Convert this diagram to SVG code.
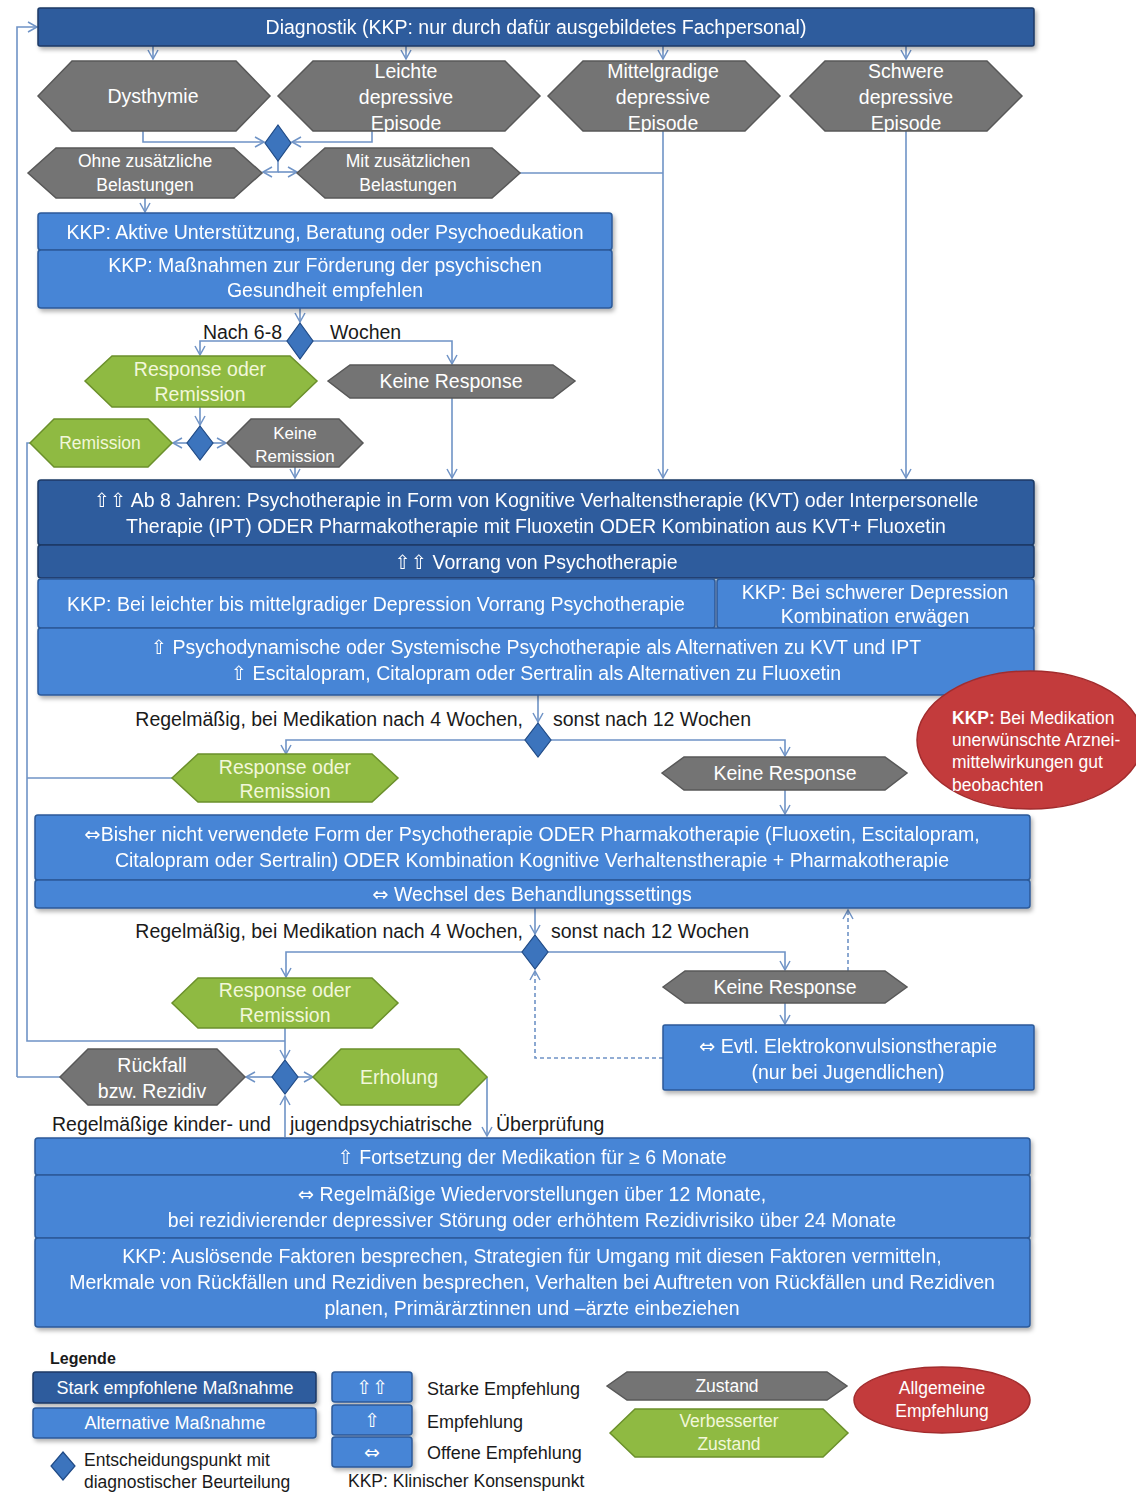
<svg xmlns="http://www.w3.org/2000/svg" width="1136" height="1498" viewBox="0 0 1136 1498">
<defs>
<style>
.dk{fill:#2d5b9d;stroke:#1c3a66;stroke-width:1.5}
.lt{fill:#4785d6;stroke:#2c5a99;stroke-width:1.5}
.gr{fill:#747474;stroke:#585858;stroke-width:1.5}
.gn{fill:#8fba42;stroke:#6b902b;stroke-width:1.5}
.dm{fill:#3c74bd;stroke:#1f4a86;stroke-width:1.2}
.rd{fill:#c33b3c;stroke:#a22c2d;stroke-width:1.5}
.t{font-family:"Liberation Sans",Arial,"DejaVu Sans",sans-serif;font-size:19.5px;fill:#fff;text-anchor:middle}
.tg{font-family:"Liberation Sans",Arial,"DejaVu Sans",sans-serif;font-size:19.5px;fill:#f2f7da;text-anchor:middle}
.lb{font-family:"Liberation Sans",Arial,"DejaVu Sans",sans-serif;font-size:19.5px;fill:#1a1a1a}
.sy{font-family:"DejaVu Sans",sans-serif}
.c{stroke:#6f93c6;stroke-width:1.6;fill:none}
.cd{stroke:#6f93c6;stroke-width:1.6;fill:none;stroke-dasharray:4 3}
.sh{filter:url(#shd)}
</style>
<filter id="shd" x="-5%" y="-10%" width="110%" height="130%">
<feDropShadow dx="2" dy="3" stdDeviation="2" flood-color="#000" flood-opacity="0.3"/>
</filter>
<marker id="ar" markerWidth="12" markerHeight="12" refX="10" refY="6" orient="auto" markerUnits="userSpaceOnUse">
<path d="M1,1 L10,6 L1,11" fill="none" stroke="#6f93c6" stroke-width="1.5"/>
</marker>
</defs>
<rect width="1136" height="1498" fill="#fff"/>

<g id="connectors">
<path class="c" d="M17,1077 L17,27 L37,27" marker-end="url(#ar)"/>
<path class="c" d="M60,1077 L17,1077"/>
<path class="c" d="M153,46 L153,59" marker-end="url(#ar)"/>
<path class="c" d="M406,46 L406,59" marker-end="url(#ar)"/>
<path class="c" d="M663,46 L663,59" marker-end="url(#ar)"/>
<path class="c" d="M906,46 L906,59" marker-end="url(#ar)"/>
<path class="c" d="M143,130 L143,142 L264,142" marker-end="url(#ar)"/>
<path class="c" d="M372,130 L372,142 L292,142" marker-end="url(#ar)"/>
<path class="c" d="M278,160 L278,172 L263,172" marker-end="url(#ar)"/>
<path class="c" d="M278,172 L297,172" marker-end="url(#ar)"/>
<path class="c" d="M520,173 L663,173"/>
<path class="c" d="M663,130 L663,478" marker-end="url(#ar)"/>
<path class="c" d="M906,130 L906,478" marker-end="url(#ar)"/>
<path class="c" d="M145,198 L145,212" marker-end="url(#ar)"/>
<path class="c" d="M300,308 L300,322" marker-end="url(#ar)"/>
<path class="c" d="M287,341 L200,341 L200,355" marker-end="url(#ar)"/>
<path class="c" d="M313,341 L452,341 L452,364" marker-end="url(#ar)"/>
<path class="c" d="M452,398 L452,478" marker-end="url(#ar)"/>
<path class="c" d="M200,407 L200,425" marker-end="url(#ar)"/>
<path class="c" d="M187,443 L173,443" marker-end="url(#ar)"/>
<path class="c" d="M213,443 L226,443" marker-end="url(#ar)"/>
<path class="c" d="M295,467 L295,478" marker-end="url(#ar)"/>
<path class="c" d="M30,443 L27,443 L27,1041 L285,1041"/>
<path class="c" d="M538,695 L538,722" marker-end="url(#ar)"/>
<path class="c" d="M525,740 L286,740 L286,754" marker-end="url(#ar)"/>
<path class="c" d="M551,740 L785,740 L785,756" marker-end="url(#ar)"/>
<path class="c" d="M172,778 L27,778"/>
<path class="c" d="M785,790 L785,814" marker-end="url(#ar)"/>
<path class="c" d="M535,908 L535,934" marker-end="url(#ar)"/>
<path class="c" d="M522,952 L286,952 L286,977" marker-end="url(#ar)"/>
<path class="c" d="M548,952 L785,952 L785,970" marker-end="url(#ar)"/>
<path class="c" d="M785,1003 L785,1024" marker-end="url(#ar)"/>
<path class="cd" d="M663,1058 L535,1058 L535,971" marker-end="url(#ar)"/>
<path class="cd" d="M848,971 L848,910" marker-end="url(#ar)"/>
<path class="c" d="M285,1028 L285,1059" marker-end="url(#ar)"/>
<path class="c" d="M272,1077 L246,1077" marker-end="url(#ar)"/>
<path class="c" d="M298,1077 L313,1077" marker-end="url(#ar)"/>
<path class="c" d="M487,1077 L487,1136" marker-end="url(#ar)"/>
<path class="c" d="M285,1137 L285,1096" marker-end="url(#ar)"/>
</g>

<g id="diagnostik" class="sh">
<rect class="dk" x="38" y="8" width="996" height="38" rx="2"/>
<text class="t" x="536" y="34">Diagnostik (KKP: nur durch dafür ausgebildetes Fachpersonal)</text>
</g>

<g id="dysthymie">
<polygon class="gr" points="38,96 72,61 236,61 270,96 236,131 72,131"/>
<text class="t" x="153" y="103">Dysthymie</text>
</g>
<g id="leichte">
<polygon class="gr" points="278,96 313,61 505,61 540,96 505,131 313,131"/>
<text class="t" x="406" y="78">Leichte</text>
<text class="t" x="406" y="104">depressive</text>
<text class="t" x="406" y="130">Episode</text>
</g>
<g id="mittel">
<polygon class="gr" points="548,96 583,61 745,61 780,96 745,131 583,131"/>
<text class="t" x="663" y="78">Mittelgradige</text>
<text class="t" x="663" y="104">depressive</text>
<text class="t" x="663" y="130">Episode</text>
</g>
<g id="schwer">
<polygon class="gr" points="790,96 825,61 987,61 1022,96 987,131 825,131"/>
<text class="t" x="906" y="78">Schwere</text>
<text class="t" x="906" y="104">depressive</text>
<text class="t" x="906" y="130">Episode</text>
</g>

<g id="d1"><polygon class="dm" points="278,125 291,143 278,161 265,143"/></g>

<g id="ohne">
<polygon class="gr" points="28,173 56,148 234,148 262,173 234,198 56,198"/>
<text class="t" x="145" y="167" style="font-size:17.5px">Ohne zusätzliche</text>
<text class="t" x="145" y="191" style="font-size:17.5px">Belastungen</text>
</g>
<g id="mit">
<polygon class="gr" points="297,173 325,148 492,148 520,173 492,198 325,198"/>
<text class="t" x="408" y="167" style="font-size:17.5px">Mit zusätzlichen</text>
<text class="t" x="408" y="191" style="font-size:17.5px">Belastungen</text>
</g>

<g id="kkp1" class="sh">
<rect class="lt" x="38" y="213" width="574" height="37" rx="3"/>
<rect class="lt" x="38" y="250" width="574" height="58" rx="3"/>
<text class="t" x="325" y="239">KKP: Aktive Unterstützung, Beratung oder Psychoedukation</text>
<text class="t" x="325" y="272">KKP: Maßnahmen zur Förderung der psychischen</text>
<text class="t" x="325" y="297">Gesundheit empfehlen</text>
</g>

<g id="d2"><polygon class="dm" points="300,323 313,341 300,359 287,341"/></g>
<text class="lb" x="282" y="339" text-anchor="end">Nach 6-8</text>
<text class="lb" x="330" y="339">Wochen</text>

<g id="resp1">
<polygon class="gn" points="85,381 112,356 290,356 317,381 290,407 112,407"/>
<text class="tg" x="200" y="376">Response oder</text>
<text class="tg" x="200" y="401">Remission</text>
</g>
<g id="keineresp1">
<polygon class="gr" points="328,381 350,365 553,365 575,381 553,398 350,398"/>
<text class="t" x="451" y="388">Keine Response</text>
</g>

<g id="d3"><polygon class="dm" points="200,426 213,443 200,460 187,443"/></g>

<g id="remission">
<polygon class="gn" points="30,443 54,419 148,419 172,443 148,467 54,467"/>
<text class="tg" x="100" y="449" style="font-size:17.5px">Remission</text>
</g>
<g id="keinerem">
<polygon class="gr" points="227,443 251,419 339,419 363,443 339,467 251,467"/>
<text class="t" x="295" y="439" style="font-size:17px">Keine</text>
<text class="t" x="295" y="462" style="font-size:17px">Remission</text>
</g>

<g id="box1" class="sh">
<rect class="dk" x="38" y="480" width="996" height="65" rx="3"/>
<rect class="dk" x="38" y="545" width="996" height="33" rx="3"/>
<rect class="lt" x="38" y="579" width="677" height="49" rx="3"/>
<rect class="lt" x="717" y="579" width="317" height="49" rx="3"/>
<rect class="lt" x="38" y="628" width="996" height="67" rx="3"/>
<text class="t" x="536" y="507"><tspan class="sy">⇧⇧</tspan> Ab 8 Jahren: Psychotherapie in Form von Kognitive Verhaltenstherapie (KVT) oder Interpersonelle</text>
<text class="t" x="536" y="533">Therapie (IPT)  ODER Pharmakotherapie mit Fluoxetin ODER Kombination aus KVT+ Fluoxetin</text>
<text class="t" x="536" y="569"><tspan class="sy">⇧⇧</tspan> Vorrang von Psychotherapie</text>
<text class="t" x="376" y="611">KKP: Bei leichter bis mittelgradiger Depression Vorrang Psychotherapie</text>
<text class="t" x="875" y="599">KKP: Bei schwerer Depression</text>
<text class="t" x="875" y="623">Kombination erwägen</text>
<text class="t" x="536" y="654"><tspan class="sy">⇧</tspan> Psychodynamische oder Systemische Psychotherapie als Alternativen zu KVT und IPT</text>
<text class="t" x="536" y="680"><tspan class="sy">⇧</tspan> Escitalopram, Citalopram oder Sertralin als Alternativen zu Fluoxetin</text>
</g>

<g id="d4"><polygon class="dm" points="538,723 551,740 538,757 525,740"/></g>
<text class="lb" x="523" y="726" text-anchor="end">Regelmäßig, bei Medikation nach 4 Wochen,</text>
<text class="lb" x="553" y="726">sonst nach 12 Wochen</text>

<g id="resp2">
<polygon class="gn" points="172,778 198,754 372,754 398,778 372,802 198,802"/>
<text class="tg" x="285" y="774">Response oder</text>
<text class="tg" x="285" y="798">Remission</text>
</g>
<g id="keineresp2">
<polygon class="gr" points="662,773 684,757 885,757 907,773 885,790 684,790"/>
<text class="t" x="785" y="780">Keine Response</text>
</g>

<g id="kkpred">
<ellipse class="rd" cx="1030" cy="740" rx="113" ry="69"/>
<text x="952" y="724" style="font-family:'Liberation Sans',Arial,sans-serif;font-size:17.5px;fill:#fff"><tspan font-weight="bold">KKP:</tspan> Bei Medikation</text>
<text x="952" y="746" style="font-family:'Liberation Sans',Arial,sans-serif;font-size:17.5px;fill:#fff">unerwünschte Arznei-</text>
<text x="952" y="768" style="font-family:'Liberation Sans',Arial,sans-serif;font-size:17.5px;fill:#fff">mittelwirkungen gut</text>
<text x="952" y="791" style="font-family:'Liberation Sans',Arial,sans-serif;font-size:17.5px;fill:#fff">beobachten</text>
</g>

<g id="box2" class="sh">
<rect class="lt" x="35" y="815" width="995" height="65" rx="3"/>
<rect class="lt" x="35" y="880" width="995" height="28" rx="3"/>
<text class="t" x="532" y="841"><tspan class="sy">⇔</tspan>Bisher nicht verwendete  Form der Psychotherapie ODER Pharmakotherapie (Fluoxetin, Escitalopram,</text>
<text class="t" x="532" y="867">Citalopram oder Sertralin) ODER Kombination Kognitive Verhaltenstherapie + Pharmakotherapie</text>
<text class="t" x="532" y="901"><tspan class="sy">⇔</tspan> Wechsel des Behandlungssettings</text>
</g>

<g id="d5"><polygon class="dm" points="535,935 548,952 535,969 522,952"/></g>
<text class="lb" x="523" y="938" text-anchor="end">Regelmäßig, bei Medikation nach 4 Wochen,</text>
<text class="lb" x="551" y="938">sonst nach 12 Wochen</text>

<g id="resp3">
<polygon class="gn" points="172,1003 198,978 372,978 398,1003 372,1028 198,1028"/>
<text class="tg" x="285" y="997">Response oder</text>
<text class="tg" x="285" y="1022">Remission</text>
</g>
<g id="keineresp3">
<polygon class="gr" points="663,987 685,971 885,971 907,987 885,1003 685,1003"/>
<text class="t" x="785" y="994">Keine Response</text>
</g>

<g id="evtl" class="sh">
<rect class="lt" x="663" y="1025" width="371" height="65" rx="2"/>
<text class="t" x="848" y="1053"><tspan class="sy">⇔</tspan> Evtl. Elektrokonvulsionstherapie</text>
<text class="t" x="848" y="1079">(nur bei Jugendlichen)</text>
</g>

<g id="d6"><polygon class="dm" points="285,1060 298,1077 285,1094 272,1077"/></g>

<g id="rueckfall">
<polygon class="gr" points="60,1077 88,1049 217,1049 245,1077 217,1105 88,1105"/>
<text class="t" x="152" y="1072">Rückfall</text>
<text class="t" x="152" y="1098">bzw. Rezidiv</text>
</g>
<g id="erholung">
<polygon class="gn" points="313,1077 341,1049 459,1049 487,1077 459,1105 341,1105"/>
<text class="tg" x="399" y="1084">Erholung</text>
</g>

<text class="lb" x="52" y="1131">Regelmäßige kinder- und</text>
<text class="lb" x="290" y="1131">jugendpsychiatrische</text>
<text class="lb" x="496" y="1131">Überprüfung</text>

<g id="box3" class="sh">
<rect class="lt" x="35" y="1138" width="995" height="37" rx="3"/>
<rect class="lt" x="35" y="1175" width="995" height="63" rx="3"/>
<rect class="lt" x="35" y="1238" width="995" height="89" rx="3"/>
<text class="t" x="532" y="1164"><tspan class="sy">⇧</tspan>  Fortsetzung der Medikation für ≥ 6 Monate</text>
<text class="t" x="532" y="1201"><tspan class="sy">⇔</tspan> Regelmäßige Wiedervorstellungen über 12 Monate,</text>
<text class="t" x="532" y="1227">bei rezidivierender  depressiver Störung oder erhöhtem Rezidivrisiko über 24 Monate</text>
<text class="t" x="532" y="1263">KKP: Auslösende Faktoren besprechen, Strategien für Umgang mit diesen Faktoren vermitteln,</text>
<text class="t" x="532" y="1289">Merkmale von Rückfällen und Rezidiven  besprechen, Verhalten bei Auftreten von Rückfällen und Rezidiven</text>
<text class="t" x="532" y="1315">planen, Primärärztinnen und –ärzte einbeziehen</text>
</g>

<g id="legend">
<text x="50" y="1364" style="font-family:'Liberation Sans',Arial,sans-serif;font-size:16px;font-weight:bold;fill:#1a1a1a">Legende</text>
<g class="sh">
<rect class="dk" x="33" y="1372" width="283" height="31" rx="3"/>
<rect class="lt" x="33" y="1408" width="283" height="30" rx="3"/>
<rect class="lt" x="332" y="1372" width="80" height="30" rx="3"/>
<rect class="lt" x="332" y="1405" width="80" height="30" rx="3"/>
<rect class="lt" x="332" y="1437" width="80" height="30" rx="3"/>
</g>
<text class="t" x="175" y="1394" style="font-size:18px">Stark empfohlene Maßnahme</text>
<text class="t" x="175" y="1429" style="font-size:18px">Alternative Maßnahme</text>
<text class="t sy" x="372" y="1394" style="font-size:19px">⇧⇧</text>
<text class="t sy" x="372" y="1427" style="font-size:19px">⇧</text>
<text class="t sy" x="372" y="1459" style="font-size:19px">⇔</text>
<polygon class="dm" points="63,1452 75,1466 63,1480 51,1466"/>
<text class="lb" x="84" y="1466" style="font-size:17.5px">Entscheidungspunkt mit</text>
<text class="lb" x="84" y="1488" style="font-size:17.5px">diagnostischer Beurteilung</text>
<text class="lb" x="427" y="1395" style="font-size:18px">Starke Empfehlung</text>
<text class="lb" x="427" y="1428" style="font-size:18px">Empfehlung</text>
<text class="lb" x="427" y="1459" style="font-size:18px">Offene Empfehlung</text>
<text class="lb" x="348" y="1487" style="font-size:17.5px">KKP: Klinischer Konsenspunkt</text>
<polygon class="gr" points="607,1386 627,1372 827,1372 847,1386 827,1400 627,1400"/>
<text class="t" x="727" y="1392" style="font-size:17.5px">Zustand</text>
<polygon class="gn" points="610,1433 635,1409 823,1409 848,1433 823,1457 635,1457"/>
<text class="tg" x="729" y="1427" style="font-size:17.5px">Verbesserter</text>
<text class="tg" x="729" y="1450" style="font-size:17.5px">Zustand</text>
<ellipse class="rd" cx="942" cy="1400" rx="88" ry="33"/>
<text class="t" x="942" y="1394" style="font-size:17.5px">Allgemeine</text>
<text class="t" x="942" y="1417" style="font-size:17.5px">Empfehlung</text>
</g>
</svg>
